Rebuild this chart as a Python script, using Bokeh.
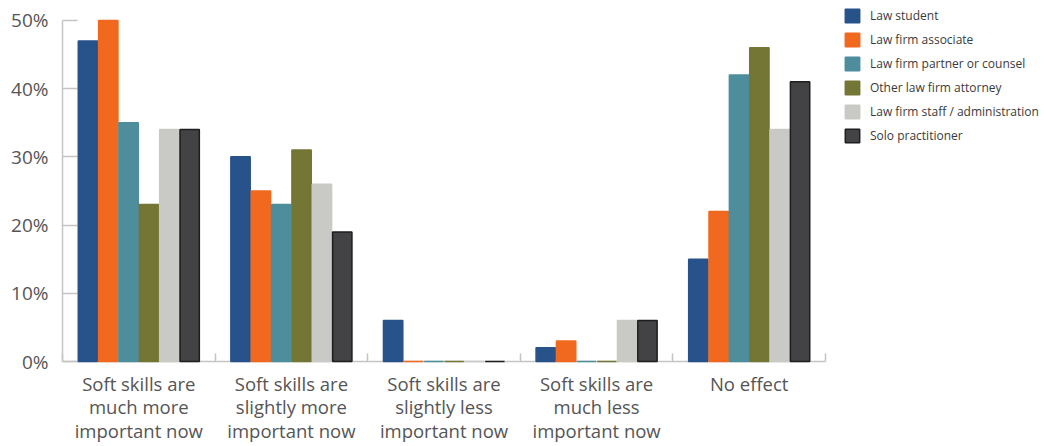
from bokeh.plotting import figure
from bokeh.models import FixedTicker, PrintfTickFormatter, Legend, LegendItem, Range1d
from bokeh.embed import file_html
from bokeh.resources import INLINE

# Survey answers: how soft skills' importance has changed
categories = [
    "Soft skills are\nmuch more\nimportant now",
    "Soft skills are\nslightly more\nimportant now",
    "Soft skills are\nslightly less\nimportant now",
    "Soft skills are\nmuch less\nimportant now",
    "No effect",
]

series_names = [
    "Law student",
    "Law firm associate",
    "Law firm partner or counsel",
    "Other law firm attorney",
    "Law firm staff / administration",
    "Solo practitioner",
]

# Share of respondents (%) per answer, one list per respondent group
law_student = [47, 30, 6, 2, 15]
law_firm_associate = [50, 25, 0, 3, 22]
law_firm_partner = [35, 23, 0, 0, 42]
other_law_firm_attorney = [23, 31, 0, 0, 46]
law_firm_staff = [34, 26, 0, 6, 34]
solo_practitioner = [34, 19, 0, 6, 41]

series_values = [
    law_student,
    law_firm_associate,
    law_firm_partner,
    other_law_firm_attorney,
    law_firm_staff,
    solo_practitioner,
]

fill_colors = ["#28528a", "#f0691f", "#4e8e9c", "#737634", "#c9c9c6", "#434345"]
line_colors = ["#28528a", "#f0691f", "#4e8e9c", "#737634", "#c9c9c6", "#1e1e1e"]

y_ticks = [0, 10, 20, 30, 40, 50]

n_cat = len(categories)
n_ser = len(series_names)
group_span = 0.8
step = group_span / n_ser

# Frame spans the full canvas to the right and top so the legend has room;
# the axes themselves are bounded to the data extent.
W, H = 1046, 446
left, bottom_px, top_px = 62, 362, 20
x_end = n_cat * (W - left) / 763.0
y_end = 50 * bottom_px / (bottom_px - top_px)

p = figure(
    width=W, height=H,
    x_range=Range1d(0, x_end), y_range=Range1d(0, y_end),
    output_backend="svg", toolbar_location=None,
    min_border_left=left, min_border_right=0,
    min_border_top=0, min_border_bottom=H - bottom_px,
)
p.grid.visible = False
p.outline_line_color = None
p.background_fill_color = "white"
p.border_fill_color = "white"

items = []
for j, (name, vals) in enumerate(zip(series_names, series_values)):
    xs = [i + 0.5 + (j - (n_ser - 1) / 2) * step for i in range(n_cat)]
    r = p.vbar(
        x=xs, top=vals, bottom=0, width=step * 0.95,
        fill_color=fill_colors[j], line_color=line_colors[j], line_width=1.5,
        level="overlay",
    )
    items.append(LegendItem(label=name, renderers=[r]))

# y axis: percentages with inward ticks
yax = p.yaxis[0]
yax.ticker = FixedTicker(ticks=y_ticks)
yax.formatter = PrintfTickFormatter(format="%d%%")
yax.bounds = (0, 50)
yax.axis_line_color = "#c4c4c4"
yax.axis_line_width = 1.5
yax.major_tick_in = 15
yax.major_tick_out = 0
yax.major_tick_line_color = "#c4c4c4"
yax.major_tick_line_width = 1.5
yax.minor_tick_line_color = None
yax.major_label_text_font = "Open Sans"
yax.major_label_text_font_size = "19px"
yax.major_label_text_color = "#555555"
yax.major_label_standoff = 14

# x axis: labels at group centres, ticks at group boundaries
xax = p.xaxis[0]
centers = [i + 0.5 for i in range(n_cat)]
bounds_ticks = [i for i in range(n_cat + 1)]
xax.ticker = FixedTicker(ticks=centers, minor_ticks=bounds_ticks)
xax.major_label_overrides = {c: lab for c, lab in zip(centers, categories)}
xax.bounds = (0, n_cat)
xax.axis_line_color = "#c4c4c4"
xax.axis_line_width = 1.5
xax.major_tick_line_color = None
xax.minor_tick_in = 8
xax.minor_tick_out = 0
xax.minor_tick_line_color = "#c4c4c4"
xax.minor_tick_line_width = 1.5
xax.major_label_text_font = "Open Sans"
xax.major_label_text_font_size = "18.5px"
xax.major_label_text_color = "#555555"
xax.major_label_text_line_height = 0.95
xax.major_label_standoff = 3

legend = Legend(
    items=items, location=(781, bottom_px - 145),
    glyph_width=18, glyph_height=17, label_height=17, spacing=7,
    padding=0, margin=0, border_line_color=None, background_fill_alpha=0,
    label_text_font="Open Sans", label_text_font_size="12px",
    label_text_color="#3a3a3a", label_standoff=9,
)
p.add_layout(legend)

open("out.html", "w").write(file_html(p, INLINE))
